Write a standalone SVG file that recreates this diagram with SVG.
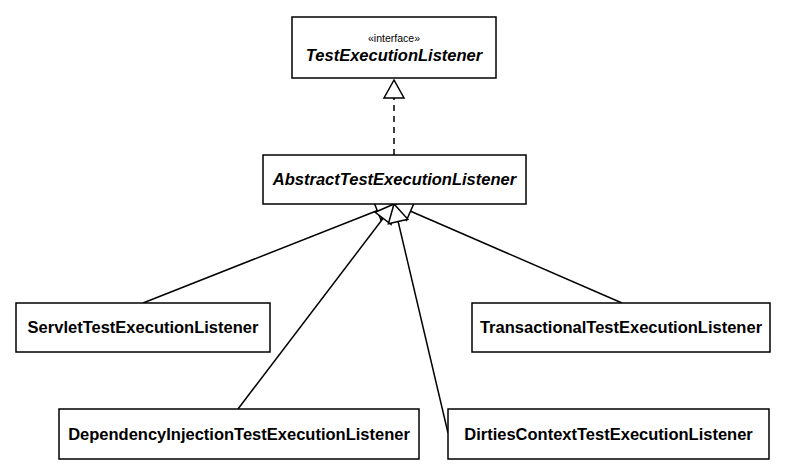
<svg xmlns="http://www.w3.org/2000/svg" width="786" height="476" viewBox="0 0 786 476">
<style>
.box{fill:#fff;stroke:#000;stroke-width:1.5}
.t{font-family:"Liberation Sans",Arial,Helvetica,sans-serif;font-weight:bold;font-size:16.5px;text-anchor:middle;fill:#000}
.it{font-style:italic}
.st{font-family:"Liberation Sans",Arial,Helvetica,sans-serif;font-size:10.5px;text-anchor:middle;fill:#000}
.ln{stroke:#000;stroke-width:1.5;fill:none}
</style>
<defs>
<marker id="tri" markerUnits="userSpaceOnUse" markerWidth="22" markerHeight="24" viewBox="0 0 22 24" refX="20" refY="12" orient="auto">
<path d="M20,12 L2,2 L2,22 Z" fill="#fff" stroke="#000" stroke-width="1.5"/>
</marker>
</defs>
<g id="connectors">
<line class="ln" x1="394" y1="155" x2="394" y2="80" stroke-dasharray="6,5" marker-end="url(#tri)"/>
<line class="ln" x1="143" y1="303" x2="394" y2="204" marker-end="url(#tri)"/>
<line class="ln" x1="622" y1="303" x2="394" y2="204" marker-end="url(#tri)"/>
<line class="ln" x1="238" y1="409" x2="394" y2="204" marker-end="url(#tri)"/>
<line class="ln" x1="448" y1="433" x2="394" y2="204" marker-end="url(#tri)"/>
</g>
<g id="TestExecutionListener">
<rect class="box" x="292" y="17" width="204" height="61"/>
<text class="st" x="394" y="42">«interface»</text>
<text class="t it" x="394" y="61">TestExecutionListener</text>
</g>
<g id="AbstractTestExecutionListener">
<rect class="box" x="263" y="155" width="263" height="49"/>
<text class="t it" x="394.5" y="185">AbstractTestExecutionListener</text>
</g>
<g id="ServletTestExecutionListener">
<rect class="box" x="16" y="303" width="254" height="49"/>
<text class="t" x="143" y="333">ServletTestExecutionListener</text>
</g>
<g id="TransactionalTestExecutionListener">
<rect class="box" x="472" y="303" width="298" height="49"/>
<text class="t" x="621" y="333">TransactionalTestExecutionListener</text>
</g>
<g id="DependencyInjectionTestExecutionListener">
<rect class="box" x="59" y="409" width="360" height="50"/>
<text class="t" x="239" y="440">DependencyInjectionTestExecutionListener</text>
</g>
<g id="DirtiesContextTestExecutionListener">
<rect class="box" x="448" y="409" width="321" height="50"/>
<text class="t" x="608.5" y="440">DirtiesContextTestExecutionListener</text>
</g>
</svg>
